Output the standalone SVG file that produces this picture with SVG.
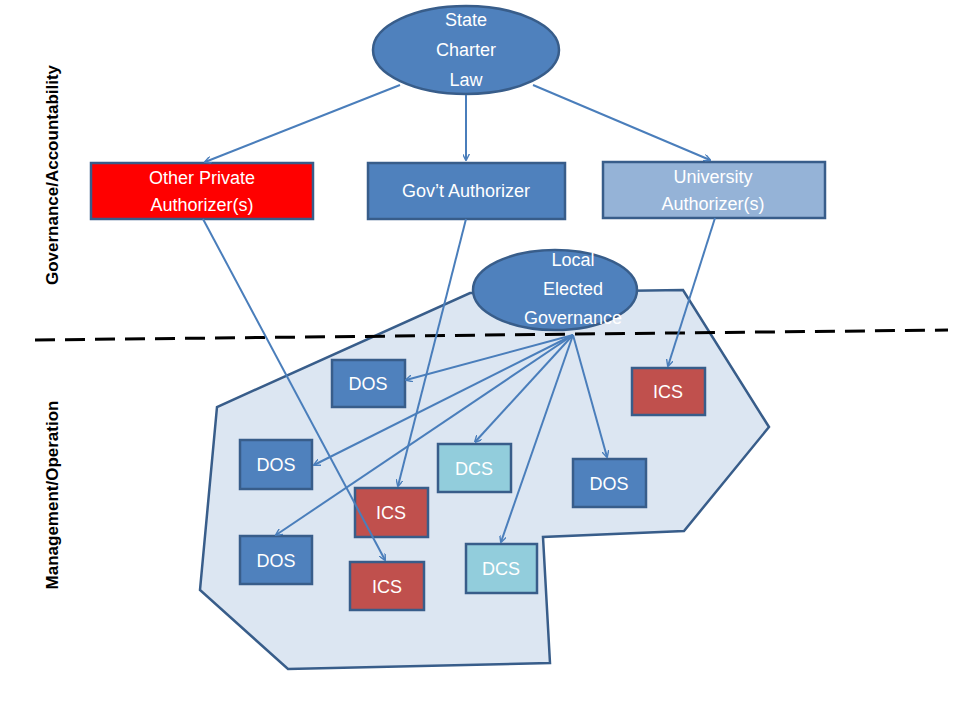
<svg xmlns="http://www.w3.org/2000/svg" width="960" height="720" viewBox="0 0 960 720">
<defs>
<marker id="ah" viewBox="0 0 10 10" refX="9" refY="5" markerWidth="7" markerHeight="7" orient="auto" markerUnits="userSpaceOnUse">
<path d="M0,0 L10,5 L0,10" fill="none" stroke="#4a7ebb" stroke-width="2"/>
</marker>
</defs>
<style>
text{font-family:"Liberation Sans",Arial,sans-serif;fill:#fff;text-anchor:middle;font-size:18px}
.side{fill:#000;font-weight:bold;font-size:17px}
.box{stroke:#385d8a;stroke-width:2.5}
.dos{fill:#4f81bd}.ics{fill:#c0504d}.dcs{fill:#92cddc}
.c line{stroke:#4a7ebb;stroke-width:2;marker-end:url(#ah)}
</style>
<rect width="960" height="720" fill="#fff"/>
<polygon points="470,293 683,290 769,427 684,531 543,537 550,663 288,669 200,590 217,407" fill="#dce6f2" stroke="#385d8a" stroke-width="2.5"/>
<line x1="35" y1="340" x2="948" y2="330" stroke="#000" stroke-width="3" stroke-dasharray="20,10"/>
<text class="side" transform="translate(58,175) rotate(-90)">Governance/Accountability</text>
<text class="side" transform="translate(58,495) rotate(-90)">Management/Operation</text>
<g id="state"><ellipse cx="466" cy="50" rx="93" ry="44" fill="#4f81bd" stroke="#385d8a" stroke-width="2.5"/><text x="466" y="26">State</text><text x="466" y="56">Charter</text><text x="466" y="86">Law</text></g>
<g id="other"><rect class="box" x="91" y="163" width="222" height="56" fill="#ff0000"/><text x="202" y="184">Other Private</text><text x="202" y="211">Authorizer(s)</text></g>
<g id="gov"><rect class="box dos" x="368" y="163" width="197" height="56"/><text x="466" y="197">Gov’t Authorizer</text></g>
<g id="univ"><rect class="box" x="603" y="162" width="222" height="56" fill="#95b3d7"/><text x="713" y="183">University</text><text x="713" y="210">Authorizer(s)</text></g>
<g id="local"><ellipse cx="555" cy="290" rx="82" ry="40" fill="#4f81bd" stroke="#385d8a" stroke-width="2.5"/><text x="573" y="266">Local</text><text x="573" y="295">Elected</text><text x="573" y="324">Governance</text></g>
<g id="dos1"><rect class="box dos" x="332" y="360" width="73" height="47"/><text x="368" y="390">DOS</text></g>
<g id="ics1"><rect class="box ics" x="632" y="368" width="73" height="47"/><text x="668" y="398">ICS</text></g>
<g id="dos2"><rect class="box dos" x="240" y="440" width="72" height="49"/><text x="276" y="471">DOS</text></g>
<g id="dcs1"><rect class="box dcs" x="438" y="444" width="73" height="48"/><text x="474" y="475">DCS</text></g>
<g id="dos3"><rect class="box dos" x="573" y="459" width="73" height="48"/><text x="609" y="490">DOS</text></g>
<g id="ics2"><rect class="box ics" x="355" y="488" width="73" height="49"/><text x="391" y="519">ICS</text></g>
<g id="dos4"><rect class="box dos" x="240" y="536" width="72" height="48"/><text x="276" y="567">DOS</text></g>
<g id="ics3"><rect class="box ics" x="350" y="562" width="74" height="48"/><text x="387" y="593">ICS</text></g>
<g id="dcs2"><rect class="box dcs" x="466" y="544" width="71" height="49"/><text x="501" y="575">DCS</text></g>
<g class="c" id="connectors">
<line x1="400" y1="85" x2="205" y2="162"/>
<line x1="466" y1="95" x2="466" y2="160"/>
<line x1="533" y1="85" x2="710" y2="160"/>
<line x1="203" y1="219" x2="385" y2="560"/>
<line x1="466" y1="219" x2="398" y2="486"/>
<line x1="715" y1="218" x2="668" y2="366"/>
<line x1="573" y1="335" x2="406" y2="380"/>
<line x1="573" y1="335" x2="314" y2="465"/>
<line x1="573" y1="335" x2="276" y2="535"/>
<line x1="573" y1="335" x2="475" y2="442"/>
<line x1="573" y1="335" x2="607" y2="457"/>
<line x1="573" y1="335" x2="501" y2="542"/>
</g>
</svg>
